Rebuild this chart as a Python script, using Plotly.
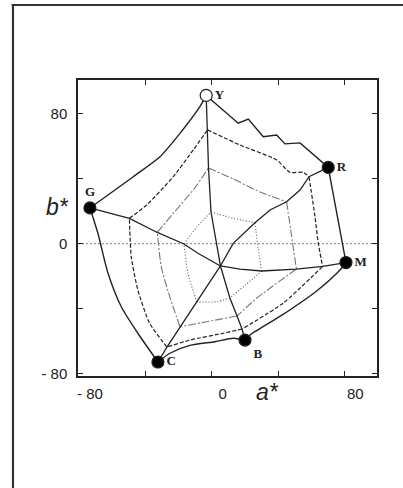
import plotly.graph_objects as go

# ---- vertices of the gamut (CIELAB a*, b*) ----
vertex_names = ["Y", "R", "M", "B", "C", "G"]
vertex_a = [-3.3, 70.3, 81.0, 20.1, -32.4, -73.4]
vertex_b = [91.2, 46.9, -11.6, -59.3, -72.8, 22.0]
vertex_fill = ["white", "black", "black", "black", "black", "black"]
vertex_label_pos = ["middle right", "middle right", "middle right",
                    "bottom right", "middle right", "top center"]

# ---- spokes: neutral point -> vertex ----
spoke_Y_a = [5.3, -0.4, -1.9, -2.5, -3.3]
spoke_Y_b = [-13.7, 19.5, 46.6, 70.0, 91.2]
spoke_R_a = [5.3, 13.0, 26.1, 35.2, 45.2, 53.3, 58.7, 70.3]
spoke_R_b = [-13.7, 0.2, 12.9, 20.7, 25.8, 33.0, 41.2, 46.9]
spoke_M_a = [5.3, 17.1, 30.2, 51.1, 66.9, 81.0]
spoke_M_b = [-13.7, -15.6, -16.8, -15.6, -14.0, -11.6]
spoke_B_a = [5.3, 11.0, 15.3, 18.3, 20.1]
spoke_B_b = [-13.7, -33.4, -44.5, -52.5, -59.3]
spoke_C_a = [5.3, -9.0, -19.1, -27.0, -32.4]
spoke_C_b = [-13.7, -35.9, -51.1, -63.6, -72.8]
spoke_G_a = [5.3, -8.3, -16.7, -32.8, -49.6, -73.4]
spoke_G_b = [-13.7, -5.9, -0.2, 6.9, 15.6, 22.0]

# ---- outer gamut boundary: zigzag part Y-R-M-B (linear) and smooth part B-C-G-Y ----
outer_zig_a = [-3.3, 16.0, 22.1, 31.1, 39.2, 44.2, 53.3, 70.3, 81.0]
outer_zig_b = [91.2, 74.1, 76.7, 65.8, 66.9, 61.4, 62.0, 46.9, -11.6]
outer_mb_a = [81.0, 77.4, 63.3, 43.1, 23.1, 20.1]
outer_mb_b = [-11.6, -16.2, -29.1, -43.5, -56.2, -59.3]
outer_bc_a = [20.1, 13.0, 2.0, -13.1, -25.2, -32.4]
outer_bc_b = [-59.3, -58.2, -60.3, -62.6, -67.4, -72.8]
outer_cg_a = [-32.4, -44.5, -54.5, -62.5, -68.6, -73.4]
outer_cg_b = [-72.8, -55.1, -38.8, -18.2, 6.4, 22.0]
outer_gy_a = [-73.4, -47.3, -31.2, -19.1, -7.1, -3.3]
outer_gy_b = [22.0, 41.2, 53.5, 67.9, 84.3, 91.2]

# ---- inner contours (None separates edges) ----
dashed_a = [-2.5, 17.1, 39.2, 47.2, 55.2, 58.7, None,
            58.7, 62.3, 64.3, 66.9, None,
            66.9, 43.2, 18.3, None,
            18.3, 7.0, -13.1, -27.0, None,
            -27.0, -37.4, -44.5, -48.5, -49.6, None,
            -49.6, -39.2, -23.2, -11.1, -2.5]
dashed_b = [70.0, 60.7, 51.5, 43.9, 43.9, 41.2, None,
            41.2, 16.6, 0.2, -14.0, None,
            -14.0, -36.5, -52.5, None,
            -52.5, -55.1, -59.3, -63.6, None,
            -63.6, -49.0, -28.5, -8.0, 15.6, None,
            15.6, 23.8, 41.2, 57.7, 70.0]

dashdot_a = [-1.9, 13.0, 29.1, 45.2, None,
             45.2, 48.1, 51.1, None,
             51.1, 27.1, 15.3, None,
             15.3, -3.0, -19.1, None,
             -19.1, -25.3, -30.4, -32.8, None,
             -32.8, -22.3, -10.3, -1.9]
dashdot_b = [46.6, 39.8, 31.8, 25.8, None,
             25.8, 5.4, -15.6, None,
             -15.6, -33.6, -44.5, None,
             -44.5, -48.0, -51.1, None,
             -51.1, -32.6, -14.2, 6.9, None,
             6.9, 19.7, 34.1, 46.6]

dotted_a = [-0.4, 13.0, 26.1, None,
            26.1, 28.0, 30.2, None,
            30.2, 20.7, 11.0, None,
            11.0, 3.0, -9.0, None,
            -9.0, -14.3, -16.7, None,
            -16.7, -8.9, -0.4]
dotted_b = [19.5, 15.6, 12.9, None,
            12.9, -2.6, -16.8, None,
            -16.8, -25.1, -33.4, None,
            -33.4, -35.7, -35.9, None,
            -35.9, -18.2, -0.2, None,
            -0.2, 10.3, 19.5]

# ---- axes ----
tick_vals = [-80, -40, 0, 40, 80]
tick_text = ["- 80", "", "0", "", "80"]
x_range = [-80.6, 99.7]
y_range = [-81.4, 100.7]

fig = go.Figure()

fig.add_trace(go.Scatter(x=dotted_a, y=dotted_b, mode="lines",
                         line=dict(color="#666", width=1.2, dash="1px,2px", shape="spline", smoothing=0.6),
                         hoverinfo="skip", showlegend=False))
fig.add_trace(go.Scatter(x=dashdot_a, y=dashdot_b, mode="lines",
                         line=dict(color="#777", width=1.1, dash="8px,2px,2px,2px", shape="spline", smoothing=0.6),
                         hoverinfo="skip", showlegend=False))
fig.add_trace(go.Scatter(x=dashed_a, y=dashed_b, mode="lines",
                         line=dict(color="#222", width=1.2, dash="4px,2px", shape="spline", smoothing=0.6),
                         hoverinfo="skip", showlegend=False))

for sa, sb in [(spoke_Y_a, spoke_Y_b), (spoke_R_a, spoke_R_b), (spoke_M_a, spoke_M_b),
               (spoke_B_a, spoke_B_b), (spoke_C_a, spoke_C_b), (spoke_G_a, spoke_G_b)]:
    fig.add_trace(go.Scatter(x=sa, y=sb, mode="lines",
                             line=dict(color="#222", width=1.3),
                             hoverinfo="skip", showlegend=False))

fig.add_trace(go.Scatter(x=outer_zig_a, y=outer_zig_b, mode="lines",
                         line=dict(color="#222", width=1.4),
                         hoverinfo="skip", showlegend=False))
for oa, ob in [(outer_mb_a, outer_mb_b), (outer_bc_a, outer_bc_b),
               (outer_cg_a, outer_cg_b), (outer_gy_a, outer_gy_b)]:
    fig.add_trace(go.Scatter(x=oa, y=ob, mode="lines",
                             line=dict(color="#222", width=1.4, shape="spline", smoothing=0.7),
                             hoverinfo="skip", showlegend=False))

fig.add_trace(go.Scatter(x=vertex_a, y=vertex_b, mode="markers+text",
                         text=vertex_names, textposition=vertex_label_pos,
                         textfont=dict(family="Liberation Serif", size=13, color="#222", weight="bold"),
                         marker=dict(size=12, color=vertex_fill, line=dict(color="#222", width=1.2)),
                         hoverinfo="skip", showlegend=False))

fig.add_shape(type="line", xref="paper", x0=0, x1=1, yref="y", y0=0, y1=0,
              line=dict(color="#999", width=1.2, dash="2px,2px"), layer="below")

# outer page frame (scanned figure border)
fig.add_shape(type="line", xref="paper", yref="paper", x0=-0.222, x1=1.1, y0=1.2534, y1=1.2534,
              line=dict(color="#333", width=2))
fig.add_shape(type="line", xref="paper", yref="paper", x0=-0.2174, x1=-0.2174, y0=1.2534, y1=-0.4,
              line=dict(color="#333", width=2.2))

axis_common = dict(showgrid=False, zeroline=False, showline=True, linecolor="#222", linewidth=1.5,
                   mirror="ticks", ticks="inside", ticklen=5, tickwidth=1, tickcolor="#222",
                   tickvals=tick_vals, ticktext=tick_text,
                   tickfont=dict(family="Liberation Sans", size=15, color="#222"))

fig.update_layout(
    width=403, height=488,
    margin=dict(l=78, r=26, t=80, b=112),
    paper_bgcolor="white", plot_bgcolor="white",
    xaxis=dict(range=x_range, ticklabelshift=11, ticklabelstandoff=3, **axis_common),
    yaxis=dict(range=y_range, ticklabelstandoff=6, **axis_common),
    annotations=[
        dict(text="<i>b*</i>", xref="paper", yref="paper", x=-0.067, y=0.571,
             xanchor="center", yanchor="middle",
             showarrow=False, font=dict(family="Liberation Sans", size=23, color="#222")),
        dict(text="<i>a*</i>", xref="paper", yref="paper", x=0.635, y=-0.054,
             xanchor="center", yanchor="middle",
             showarrow=False, font=dict(family="Liberation Sans", size=23, color="#222")),
    ],
)

fig.write_html("out.html", config={"displayModeBar": False},
               post_script="document.body.style.margin='0';document.body.style.overflow='hidden';")
